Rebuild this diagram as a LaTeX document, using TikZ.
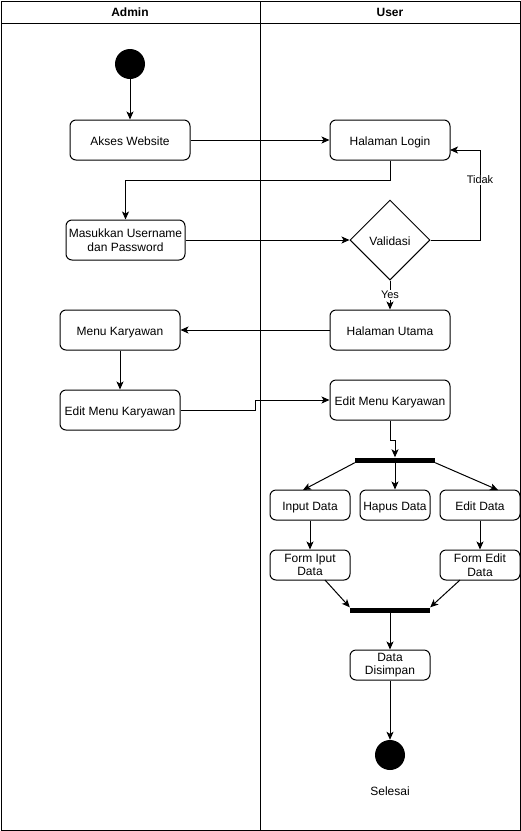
\documentclass[tikz,border=0pt]{standalone}
\usepackage{fontspec}
\setmainfont{Liberation Sans}
\usetikzlibrary{arrows.meta,shapes.geometric}
\begin{document}
\begin{tikzpicture}[x=1pt,y=-1pt,
  every node/.style={font=\fontsize{12}{13.5}\selectfont},
  act/.style={draw, line width=1pt, rounded corners=6pt, align=center, inner sep=0pt},
  oneline/.style={text height=11pt, text depth=1pt},
  dec/.style={draw, line width=1pt, diamond, inner sep=0pt, minimum width=80pt, minimum height=80pt, oneline},
  dot/.style={circle, fill=black, inner sep=0pt, minimum size=30pt},
  bar/.style={fill=black, inner sep=0pt, minimum height=5pt},
  flow/.style={line width=1pt, -{Stealth[length=8pt,width=7pt,inset=2pt]}},
  lbl/.style={fill=white, inner sep=1pt, font=\fontsize{11}{12}\selectfont},
  lane/.style={line width=1pt},
  head/.style={font=\fontsize{12}{13.5}\selectfont\bfseries}]

\useasboundingbox (0,0) rectangle (521,831);
\fill[white] (0,0) rectangle (521,831);

% swimlanes
\draw[lane] (1,1) rectangle (520,830);
\draw[lane] (1,23) -- (520,23);
\draw[lane] (260,1) -- (260,830);
\node[head] (hadmin) at (130,12) {Admin};
\node[head] (huser) at (390,12) {User};

% admin lane
\node[dot] (start) at (130,64) {};
\node[act, oneline, minimum width=120pt, minimum height=40pt] (akses) at (130,140) {Akses Website};
\node[act, minimum width=119pt, minimum height=40pt] (masuk) at (125.5,240) {Masukkan Username\\dan Password};
\node[act, oneline, minimum width=120pt, minimum height=40pt] (menu) at (120,330) {Menu Karyawan};
\node[act, oneline, minimum width=120pt, minimum height=40pt] (aedit) at (120,410) {Edit Menu Karyawan};

% user lane
\node[act, oneline, minimum width=120pt, minimum height=40pt] (login) at (390,140) {Halaman Login};
\node[dec] (valid) at (390,240) {Validasi};
\node[act, oneline, minimum width=120pt, minimum height=40pt] (utama) at (390,330) {Halaman Utama};
\node[act, oneline, minimum width=120pt, minimum height=40pt] (uedit) at (390,400) {Edit Menu Karyawan};
\node[bar, minimum width=80pt] (bar1) at (395,460) {};
\node[act, oneline, minimum width=80pt, minimum height=30pt] (input) at (310,505) {Input Data};
\node[act, oneline, minimum width=70pt, minimum height=30pt] (hapus) at (395,505) {Hapus Data};
\node[act, oneline, minimum width=80pt, minimum height=30pt] (edit) at (480,505) {Edit Data};
\node[act, minimum width=80pt, minimum height=30pt] (finput) at (310,565) {Form Iput\\Data};
\node[act, minimum width=80pt, minimum height=30pt] (fedit) at (480,565) {Form Edit\\Data};
\node[bar, minimum width=80pt] (bar2) at (390,610) {};
\node[act, minimum width=80pt, minimum height=30pt] (simpan) at (390,665) {Data\\Disimpan};
\node[dot] (stop) at (390,755) {};
\node[oneline] (selesai) at (390,790) {Selesai};

% connectors
\draw[flow] (start) -- (akses);
\draw[flow] (akses) -- (login);
\draw[flow] (login.south) -- ++(0,20) -| (masuk.north);
\draw[flow] (masuk) -- (valid);
\coordinate (loginback) at (450,150);
\draw[flow] (valid.east) -- (480,240) -- node[lbl, pos=0.67] (ltidak) {Tidak} (480,150) -- (loginback);
\draw[flow] (valid.south) -- node[lbl] (lyes) {Yes} (utama.north);
\draw[flow] (utama) -- (menu);
\draw[flow] (menu) -- (aedit);
\draw[flow] (aedit.east) -- (255,410) -- (255,400) -- (uedit.west);
\draw[flow] (uedit.south) -- ++(0,20) -| (bar1.north);
\draw[flow] (bar1.south west) -- (303,490);
\draw[flow] (bar1.south) -- (hapus.north);
\draw[flow] (bar1.south east) -- (498,490);
\draw[flow] (input) -- (finput);
\draw[flow] (edit) -- (fedit);
\draw[flow] (325,580) -- (bar2.north west);
\draw[flow] (460,580) -- (bar2.north east);
\draw[flow] (bar2.south) -- (simpan.north);
\draw[flow] (simpan) -- (stop);

\end{tikzpicture}
\end{document}
